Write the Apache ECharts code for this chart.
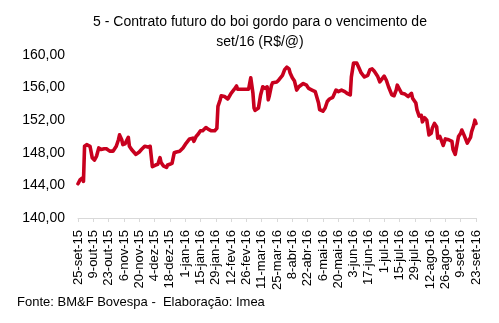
<!DOCTYPE html>
<html>
<head>
<meta charset="utf-8">
<script src="https://cdn.jsdelivr.net/npm/echarts@6/dist/echarts.min.js"></script>
<style>
html,body{margin:0;padding:0;background:#fff;}
#c{width:499px;height:323px;}
</style>
</head>
<body>
<div id="c"></div>
<script>
const titleText = "5 - Contrato futuro do boi gordo para o vencimento de\nset/16 (R$/@)";
const sourceText = "Fonte: BM&F Bovespa -  Elaboração: Imea";
const tickLabels = ["25-set-15","9-out-15","23-out-15","6-nov-15","20-nov-15","4-dez-15","18-dez-15","1-jan-16","15-jan-16","29-jan-16","12-fev-16","26-fev-16","11-mar-16","25-mar-16","8-abr-16","22-abr-16","6-mai-16","20-mai-16","3-jun-16","17-jun-16","1-jul-16","15-jul-16","29-jul-16","12-ago-16","26-ago-16","9-set-16","23-set-16"];
const dates = ["2015-09-25","2015-09-27","2015-09-29","2015-09-30","2015-10-01","2015-10-03","2015-10-06","2015-10-08","2015-10-10","2015-10-12","2015-10-14","2015-10-16","2015-10-19","2015-10-21","2015-10-24","2015-10-27","2015-10-30","2015-11-01","2015-11-02","2015-11-04","2015-11-05","2015-11-07","2015-11-08","2015-11-10","2015-11-11","2015-11-13","2015-11-14","2015-11-17","2015-11-20","2015-11-22","2015-11-25","2015-11-28","2015-11-30","2015-12-02","2015-12-03","2015-12-05","2015-12-07","2015-12-09","2015-12-10","2015-12-12","2015-12-15","2015-12-16","2015-12-18","2015-12-20","2015-12-22","2015-12-24","2015-12-27","2015-12-30","2016-01-02","2016-01-05","2016-01-08","2016-01-09","2016-01-11","2016-01-13","2016-01-15","2016-01-17","2016-01-20","2016-01-22","2016-01-25","2016-01-28","2016-01-30","2016-01-31","2016-02-02","2016-02-03","2016-02-06","2016-02-09","2016-02-12","2016-02-15","2016-02-17","2016-02-18","2016-02-23","2016-02-28","2016-03-01","2016-03-03","2016-03-04","2016-03-05","2016-03-08","2016-03-10","2016-03-12","2016-03-14","2016-03-16","2016-03-17","2016-03-18","2016-03-20","2016-03-21","2016-03-25","2016-03-27","2016-03-30","2016-04-01","2016-04-03","2016-04-05","2016-04-06","2016-04-08","2016-04-09","2016-04-10","2016-04-12","2016-04-14","2016-04-18","2016-04-21","2016-04-23","2016-04-26","2016-04-29","2016-04-30","2016-05-02","2016-05-03","2016-05-06","2016-05-08","2016-05-10","2016-05-12","2016-05-15","2016-05-18","2016-05-20","2016-05-23","2016-05-26","2016-05-28","2016-05-31","2016-06-01","2016-06-03","2016-06-06","2016-06-08","2016-06-10","2016-06-13","2016-06-16","2016-06-18","2016-06-20","2016-06-22","2016-06-25","2016-06-27","2016-06-28","2016-07-01","2016-07-03","2016-07-05","2016-07-06","2016-07-08","2016-07-10","2016-07-12","2016-07-13","2016-07-15","2016-07-17","2016-07-20","2016-07-23","2016-07-26","2016-07-27","2016-07-30","2016-07-31","2016-08-02","2016-08-04","2016-08-05","2016-08-07","2016-08-09","2016-08-11","2016-08-13","2016-08-14","2016-08-16","2016-08-18","2016-08-19","2016-08-21","2016-08-22","2016-08-24","2016-08-26","2016-08-29","2016-09-01","2016-09-02","2016-09-04","2016-09-05","2016-09-07","2016-09-09","2016-09-10","2016-09-12","2016-09-15","2016-09-16","2016-09-18","2016-09-19","2016-09-21","2016-09-22","2016-09-23"];
const prices = [144.2,144.7,144.9,144.5,148.8,149.0,148.8,147.4,147.1,147.6,148.6,148.4,148.5,148.5,148.2,148.2,148.8,149.6,150.2,149.6,149.0,149.1,149.1,149.9,148.8,148.4,148.4,147.8,148.1,148.4,148.8,148.7,148.8,146.3,146.1,146.5,146.6,147.4,146.8,146.4,146.2,146.5,146.6,146.7,148.0,148.1,148.2,148.6,149.2,149.7,149.8,149.4,150.0,150.3,150.7,150.7,151.1,150.9,150.7,150.7,151.0,153.7,154.5,155.0,154.9,154.6,155.3,155.8,156.2,155.8,155.8,155.8,157.2,155.3,153.5,153.2,153.5,155.1,156.1,155.9,156.1,154.5,155.0,156.3,156.6,156.7,157.0,157.5,158.2,158.5,158.3,157.8,157.2,157.4,156.8,155.7,156.1,156.5,156.3,155.9,155.7,155.5,155.4,154.1,153.3,153.1,153.5,154.3,154.6,154.8,155.7,155.5,155.7,155.5,155.3,155.1,157.3,159.0,159.0,158.4,157.8,157.3,157.5,158.2,158.3,158.0,157.4,156.7,156.5,157.4,156.9,156.1,156.2,155.1,155.0,155.7,156.3,155.8,155.3,155.2,154.9,155.3,154.7,154.1,153.3,152.5,152.6,151.8,152.3,152.0,150.2,150.4,151.0,151.6,151.2,149.8,150.0,149.8,148.9,149.7,149.6,149.4,148.4,147.8,147.6,150.0,150.4,150.8,150.2,149.2,149.1,149.9,150.6,151.4,152.0,151.6];

const startMs = Date.UTC(2015, 8, 25);
function dayOffset(s) {
  const p = s.split('-').map(Number);
  return Math.round((Date.UTC(p[0], p[1] - 1, p[2]) - startMs) / 86400000);
}
const seriesData = dates.map((d, i) => [dayOffset(d), prices[i]]);
const FONT = "'Liberation Sans', Arial, Helvetica, sans-serif";

const chart = echarts.init(document.getElementById('c'), null, {renderer: 'canvas'});
chart.setOption({
  animation: false,
  backgroundColor: '#ffffff',
  grid: {left: 78, right: 23, top: 55, bottom: 105, containLabel: false},
  xAxis: {
    type: 'value',
    min: 0,
    max: (tickLabels.length - 1) * 14,
    interval: 14,
    splitLine: {show: false},
    axisLine: {show: true, lineStyle: {color: '#d9d9d9', width: 1}},
    axisTick: {show: true, length: 4, lineStyle: {color: '#d9d9d9'}},
    axisLabel: {
      rotate: 90,
      margin: 12,
      fontSize: 13,
      fontFamily: FONT,
      color: '#000',
      showMinLabel: true,
      showMaxLabel: true,
      formatter: function (v) { return tickLabels[Math.round(v / 14)] || ''; }
    }
  },
  yAxis: {
    type: 'value',
    min: 140,
    max: 160,
    interval: 4,
    splitLine: {show: false},
    axisLine: {show: false},
    axisTick: {show: false},
    axisLabel: {
      margin: 13,
      fontSize: 14,
      fontFamily: FONT,
      color: '#000',
      formatter: function (v) { return v.toFixed(2).replace('.', ','); }
    }
  },
  series: [{
    type: 'line',
    data: seriesData,
    showSymbol: false,
    symbol: 'none',
    lineStyle: {color: '#c8001e', width: 3.6, join: 'round', cap: 'round'},
    itemStyle: {color: '#c8001e'}
  }],
  graphic: [
    {type: 'text', x: 260, y: 12, style: {text: titleText, align: 'center', textAlign: 'center', verticalAlign: 'top', font: '14px ' + FONT, fill: '#000', lineHeight: 20}},
    {type: 'text', x: 17, y: 296, style: {text: sourceText, font: '13px ' + FONT, fill: '#000', verticalAlign: 'top'}}
  ]
});
</script>
</body>
</html>
